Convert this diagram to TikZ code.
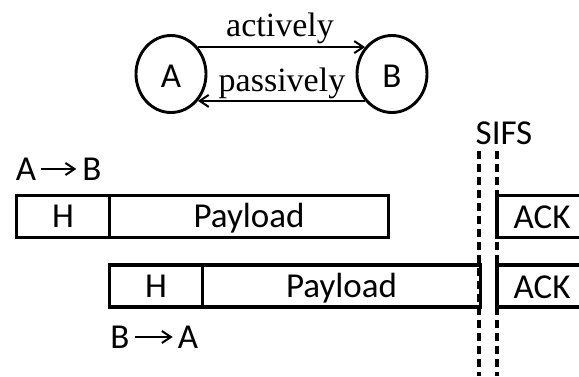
\documentclass[tikz,border=0pt]{standalone}
\usepackage{fontspec}
\setmainfont{Carlito}
\newfontfamily\serifbody{Liberation Serif}
\usetikzlibrary{arrows.meta,shapes.geometric}
\tikzset{
  statenode/.style={draw,ellipse,line width=2.9pt,minimum width=70pt,minimum height=77pt,inner sep=0pt,text height=26pt,text depth=0pt,font=\fontsize{35}{38}\selectfont},
  lbl/.style={inner sep=0pt,text height=22.5pt,text depth=0pt,font=\fontsize{35}{38}\selectfont},
  captext/.style={inner sep=0pt,font=\serifbody\fontsize{34}{38}\selectfont},
  cell/.style={draw,line width=3.2pt,minimum height=42pt,inner sep=0pt,anchor=west,text height=22.5pt,text depth=0pt,font=\fontsize{35}{38}\selectfont},
  boxline/.style={line width=3.2pt},
  flow/.style={line width=2.5pt,-{Straight Barb[length=9pt,width=12pt,line width=2pt]}},
  guide/.style={line width=3.2pt,dash pattern=on 8pt off 5pt}
}
\begin{document}
\begin{tikzpicture}[x=1pt,y=-1pt]
\useasboundingbox (0,0) rectangle (579,376);
\fill[white] (0,0) rectangle (579,376);
\node[statenode] (A) at (171,74) {A};
\node[statenode] (B) at (392,74) {B};
\draw[flow] (A.45) -- (B.135);
\draw[flow] (B.-135) -- (A.-45);
\node[captext] at (280,28) {actively};
\node[captext] at (282,83) {passively};
\coordinate (g1t) at (479,151);
\coordinate (g1b) at (479,376);
\coordinate (g2t) at (497,151);
\coordinate (g2b) at (497,376);
\draw[guide] (g1t) -- (g1b);
\draw[guide] (g2t) -- (g2b);
\node[lbl] at (504,133) {SIFS};
\node[lbl] (a1) at (26,169) {A};
\node[lbl] (b1) at (92,169) {B};
\path (a1.east) ++(5pt,0) coordinate (a1s) (b1.west) ++(-6pt,0) coordinate (b1e);
\draw[flow] (a1s) -- (b1e);
\node[cell,minimum width=93pt] (h1) at (15,216.5) {H};
\node[cell,minimum width=279pt] (p1) at (108,216.5) {Payload};
\node[cell,minimum width=93pt] (h2) at (108,286) {H};
\node[cell,minimum width=278pt] (p2) at (201,286) {Payload};
\draw[boxline] (579,195.5) -| (497,237.5) -- (579,237.5);
\draw[boxline] (579,265) -| (497,307) -- (579,307);
\node[lbl] (k1) at (542,217) {ACK};
\node[lbl] (k2) at (542,287) {ACK};
\node[lbl] (b2) at (120,337) {B};
\node[lbl] (a2) at (188,337) {A};
\path (b2.east) ++(5pt,0) coordinate (b2s) (a2.west) ++(-5pt,0) coordinate (a2e);
\draw[flow] (b2s) -- (a2e);
\end{tikzpicture}
\end{document}
